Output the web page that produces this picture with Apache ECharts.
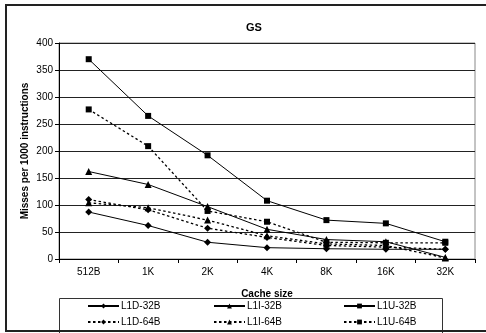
<!DOCTYPE html>
<html>
<head>
<meta charset="utf-8">
<script src="https://cdn.jsdelivr.net/npm/echarts@6/dist/echarts.min.js"></script>
<style>
html,body{margin:0;padding:0;background:#fff;}
#chart{width:486px;height:333px;}
</style>
</head>
<body>
<div id="chart"></div>
<script>
var categories = ['512B', '1K', '2K', '4K', '8K', '16K', '32K'];
var yTicks = [0, 50, 100, 150, 200, 250, 300, 350, 400];
var seriesNames = ['L1D-32B', 'L1I-32B', 'L1U-32B', 'L1D-64B', 'L1I-64B', 'L1U-64B'];
var L1D_32B = [87, 62, 31, 21, 19, 18, 18];
var L1I_32B = [162, 138, 97, 55, 36, 32, 3];
var L1U_32B = [370, 265, 192, 108, 72, 66, 32];
var L1D_64B = [110, 91, 57, 40, 25, 22, 18];
var L1I_64B = [104, 95, 72, 43, 28, 25, 2];
var L1U_64B = [277, 209, 89, 69, 31, 30, 30];

var FONT = '"Liberation Sans", Arial, sans-serif';
var chart = echarts.init(document.getElementById('chart'), null, {renderer: 'canvas'});

function mk(name, data, symbol, dashed, size) {
  return {
    name: name, type: 'line', data: data,
    symbol: symbol, symbolSize: size,
    showSymbol: true,
    itemStyle: {color: '#000'},
    lineStyle: {color: '#000', width: dashed ? 1.3 : 1, type: dashed ? [2.5, 2.5] : 'solid'},
    emphasis: {disabled: true},
    animation: false
  };
}

var legendPos = [
  {left: 87, top: 301}, {left: 213, top: 301}, {left: 343, top: 301},
  {left: 87, top: 317}, {left: 213, top: 317}, {left: 343, top: 317}
];
var legends = seriesNames.map(function (n, i) {
  return {
    data: [n], left: legendPos[i].left, top: legendPos[i].top,
    itemWidth: 31, itemHeight: 6, itemGap: 0, padding: 0,
    textStyle: {fontFamily: FONT, fontSize: 10, color: '#000', padding: [0, 0, 0, -3]},
    selectedMode: false
  };
});

var option = {
  backgroundColor: '#fff',
  animation: false,
  title: {
    text: 'GS', left: 249, top: 17, textAlign: 'center',
    textStyle: {fontFamily: FONT, fontSize: 11, fontWeight: 'bold', color: '#000'}
  },
  legend: legends,
  grid: {left: 59, right: 11, top: 43, bottom: 74, show: true, borderColor: '#888', borderWidth: 1},
  xAxis: {
    type: 'category', data: categories, boundaryGap: true,
    name: 'Cache size', nameLocation: 'middle', nameGap: 30, nameMoveOverlap: false,
    nameTextStyle: {fontFamily: FONT, fontSize: 10, fontWeight: 'bold', color: '#000'},
    axisLine: {lineStyle: {color: '#000', width: 1}},
    axisTick: {show: true, inside: false, length: 4, alignWithLabel: false, lineStyle: {color: '#000'}},
    axisLabel: {fontFamily: FONT, fontSize: 10, color: '#000', margin: 8}
  },
  yAxis: {
    type: 'value', min: yTicks[0], max: yTicks[yTicks.length - 1], interval: 50,
    name: 'Misses per 1000 instructions', nameLocation: 'middle', nameGap: 29, nameMoveOverlap: false,
    nameTextStyle: {fontFamily: FONT, fontSize: 10, fontWeight: 'bold', color: '#000'},
    axisLine: {show: true, lineStyle: {color: '#000', width: 1}},
    axisTick: {show: true, length: 4, lineStyle: {color: '#000'}},
    axisLabel: {fontFamily: FONT, fontSize: 10, color: '#000', margin: 6},
    splitLine: {show: true, lineStyle: {color: '#222', width: 1}}
  },
  graphic: [
    {type: 'rect', shape: {x: 6, y: 5, width: 490, height: 326}, style: {fill: 'none', stroke: '#222', lineWidth: 2}, z: 100},
    {type: 'rect', shape: {x: 59.5, y: 298.5, width: 383, height: 40}, style: {fill: 'none', stroke: '#333', lineWidth: 1}, z: 99}
  ],
  series: [
    mk(seriesNames[0], L1D_32B, 'diamond', false, 7),
    mk(seriesNames[1], L1I_32B, 'triangle', false, 7),
    mk(seriesNames[2], L1U_32B, 'rect', false, 6),
    mk(seriesNames[3], L1D_64B, 'diamond', true, 7),
    mk(seriesNames[4], L1I_64B, 'triangle', true, 7),
    mk(seriesNames[5], L1U_64B, 'rect', true, 6)
  ]
};
chart.setOption(option);
</script>
</body>
</html>
